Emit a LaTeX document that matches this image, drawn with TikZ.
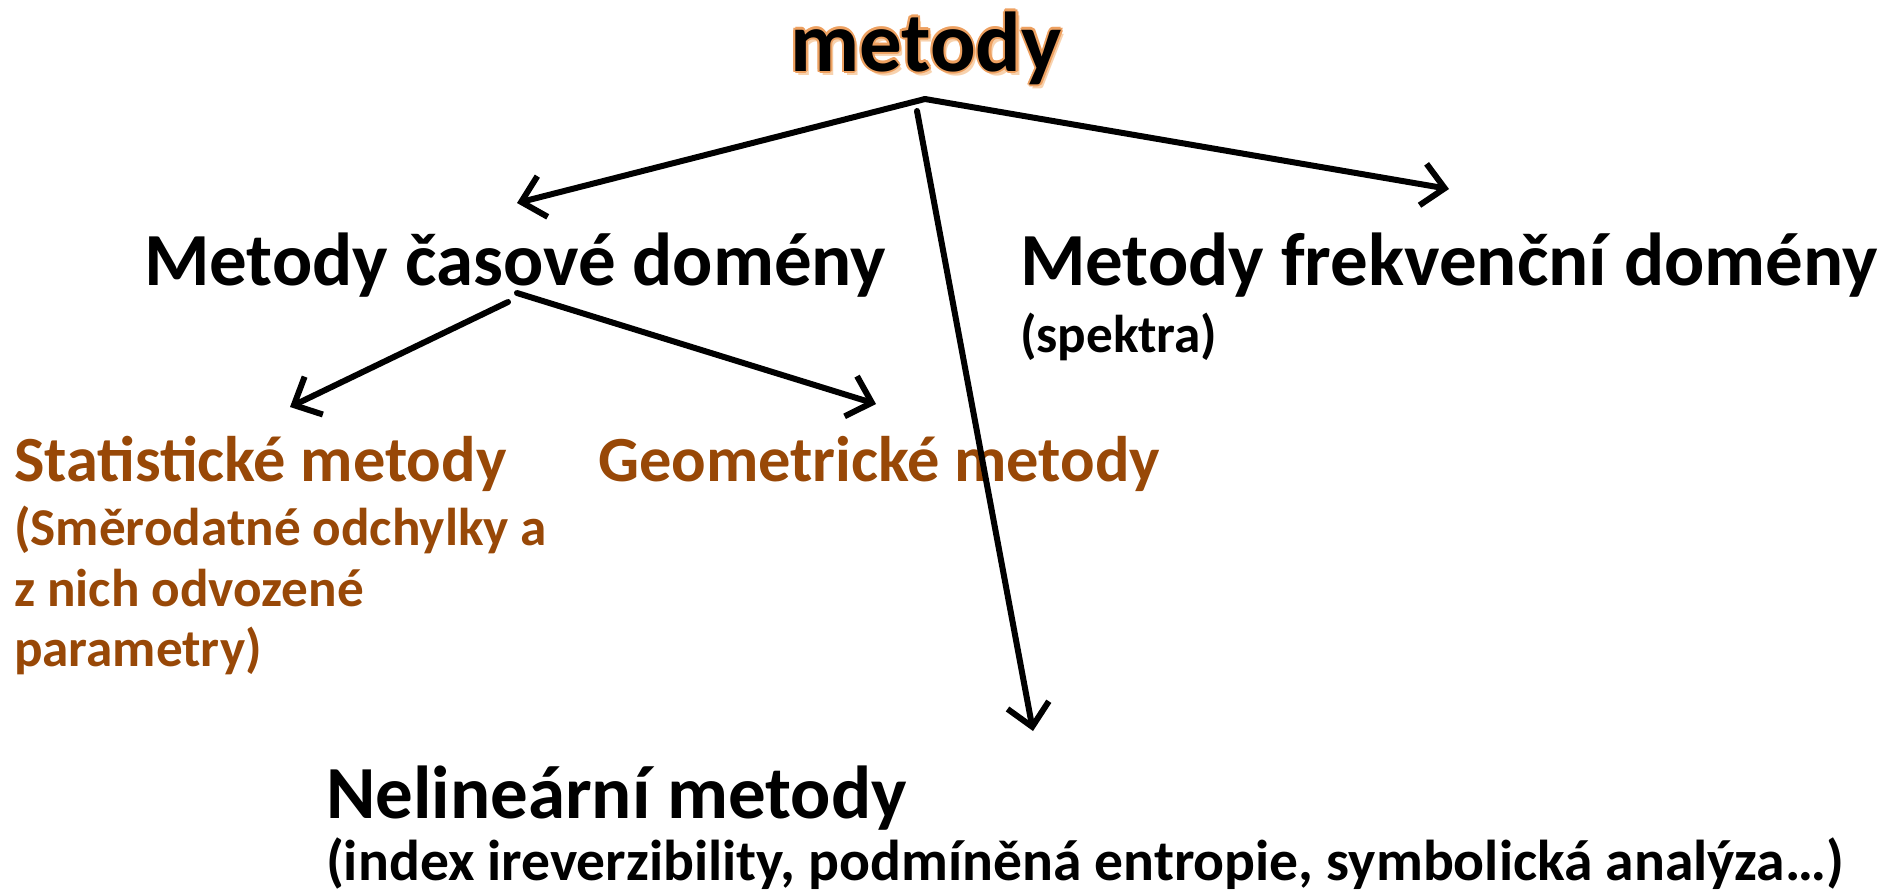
\documentclass[tikz,border=0pt]{standalone}
\usepackage{fontspec}
\setmainfont{Carlito}
\usetikzlibrary{arrows.meta}
\definecolor{brownish}{HTML}{984807}
\definecolor{glow}{HTML}{EDA060}
\definecolor{glowsoft}{HTML}{F8D2AE}
\newcommand\gcopy[4]{\makebox[0pt][l]{\hspace*{#1}\raisebox{#2}{\textcolor{#3}{#4}}}}
\newcommand\glowword[1]{%
  \gcopy{1.6pt}{-2.2pt}{glowsoft}{#1}%
  \gcopy{-1.1pt}{0pt}{glow}{#1}\gcopy{1.1pt}{0pt}{glow}{#1}%
  \gcopy{0pt}{1.1pt}{glow}{#1}\gcopy{0pt}{-1.1pt}{glow}{#1}%
  \gcopy{0.8pt}{0.8pt}{glow}{#1}\gcopy{-0.8pt}{-0.8pt}{glow}{#1}%
  \gcopy{0.8pt}{-0.8pt}{glow}{#1}\gcopy{-0.8pt}{0.8pt}{glow}{#1}%
  #1}
\tikzset{
  txt/.style={anchor=base west, inner sep=0pt, outer sep=0pt},
  huge/.style={font=\bfseries\fontsize{42.5}{50}\selectfont},
  head/.style={font=\bfseries\fontsize{37.5}{44}\selectfont},
  mid/.style={font=\bfseries\fontsize{32.2}{38}\selectfont},
  small/.style={font=\bfseries\fontsize{26.6}{30}\selectfont},
  smallb/.style={font=\bfseries\fontsize{28.8}{32}\selectfont},
  conn/.style={line width=3pt, -{Straight Barb[length=11pt,width=21pt,line width=3pt]}, line cap=round}
}
\begin{document}
\begin{tikzpicture}[x=0.5pt,y=-0.5pt]
\useasboundingbox (0,0) rectangle (1882,891);
\node[anchor=base, inner sep=0pt, huge] (title) at (926,71) {\glowword{metody}};
% headings
\node[txt, head] (casove) at (144,285) {Metody časové domény};
\node[txt, head] (frekv) at (1020,285) {Metody frekvenční domény};
\node[txt, small] (spektra) at (1020,352) {(spektra)};
\node[txt, mid, text=brownish] (stat) at (14,481) {Statistické metody};
\node[txt, small, text=brownish] (statA) at (14,545) {(Směrodatné odchylky a};
\node[txt, small, text=brownish] (statB) at (14,606) {z nich odvozené};
\node[txt, small, text=brownish] (statC) at (14,666) {parametry)};
\node[txt, mid, text=brownish] (geom) at (598,481) {Geometrické metody};
\node[txt, head] (nelin) at (326,818) {Nelineární metody};
\node[txt, smallb] (nelinsub) at (326,880) {(index ireverzibility, podmíněná entropie, symbolická analýza…)};
% connector points
\coordinate (j) at (925,99);
\coordinate (jm) at (917,111);
\coordinate (tL) at (517,203);
\coordinate (tR) at (1449,189);
\coordinate (tD) at (1033,731);
\coordinate (cL) at (508,302);
\coordinate (cR) at (517,293);
\coordinate (sL) at (290,407);
\coordinate (sR) at (876,404);
% connectors
\draw[conn] (j) -- (tL);
\draw[conn] (j) -- (tR);
\draw[conn] (jm) -- (tD);
\draw[conn] (cL) -- (sL);
\draw[conn] (cR) -- (sR);
\end{tikzpicture}
\end{document}
